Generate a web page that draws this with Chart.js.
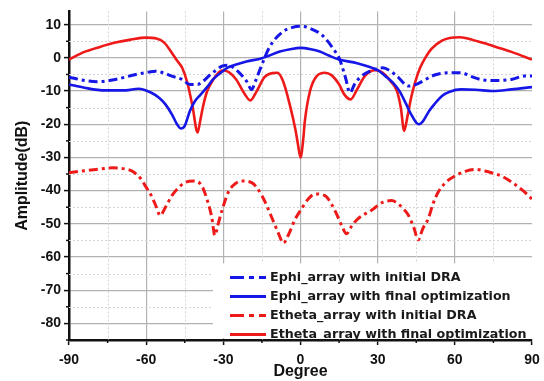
<!DOCTYPE html>
<html>
<head>
<meta charset="utf-8">
<script src="https://cdn.jsdelivr.net/npm/chart.js@4.4.1/dist/chart.umd.min.js"></script>
<style>
  body { margin: 0; background: #fff; }
  canvas { display: block; }
</style>
</head>
<body>
<canvas id="chart" width="544" height="381"></canvas>
<script>
// values (degree, dB)
const ephiInitDeg = [-90,-84,-79,-72,-64,-59,-56.5,-53,-50,-46,-43,-40,-37.5,-35,-33,-30.5,-28.5,-25,-21,-19,-17.5,-15.8,-12,-7,-3,0.5,4,8.5,12.5,15.3,17.5,19.2,21,23,27,32,35,37.5,42,45,48,51,54,57.5,62.5,66,70,76,82,87,90];
const ephiInitDb = [-5.8,-6.8,-7.2,-6.5,-5,-4.3,-4,-4.6,-5.5,-6.5,-8,-8,-6.8,-5,-3.8,-2.5,-2.2,-3.6,-7,-9.5,-7,-3.6,3.3,7.8,9.2,9.5,8.8,6.8,3,-0.6,-6,-10.5,-8,-6,-4,-3,-4,-5.5,-8.5,-8,-6.8,-5.5,-4.8,-4.5,-4.5,-5.5,-6.5,-6.8,-6.5,-5.5,-5.5];

const ephiFinalDeg = [-90,-84,-76,-68,-63,-58,-55,-52.5,-50,-48,-46.5,-45,-43,-41,-39,-36,-34,-31,-28.5,-25,-21,-15,-8,-4,0,4,7.5,11,15,22,26,30,33,36,38.5,41,43,45,46,47.5,50,52,55,58,62.5,68,75,82,90];
const ephiFinalDb = [-8,-9,-9.8,-9.8,-9.3,-10.5,-12,-14,-17,-20,-21.3,-20.5,-16,-13,-11.2,-8.5,-6.5,-4.5,-3,-2,-1.1,-0.1,1.9,2.6,3.0,2.6,1.9,0.7,-0.5,-1.6,-2.5,-3.7,-5.5,-7.5,-10,-13.8,-17,-19.5,-20,-19.2,-16,-14,-11.5,-10.2,-9.5,-9.6,-10,-9.5,-8.8];

const ethetaInitDeg = [-90,-84,-78,-73,-68,-65.5,-62,-60,-58,-56,-54.6,-52.5,-50,-47,-45,-41.7,-38.4,-36,-34.5,-33.3,-32,-30.7,-28.1,-25.5,-22.9,-19,-15,-11,-8.5,-6.7,-4.5,-2.2,0.4,3,5.6,9.5,12,14,16,17.9,20,22.4,27.6,32,35.4,38,40,42,44,45.8,47.5,49.7,51.5,53.5,56.5,60,64,67.8,71.7,75,78.2,83.3,86.5,90];
const ethetaInitDb = [-34.6,-34,-33.5,-33.1,-33.5,-34.1,-36.5,-39,-41.5,-45,-47.5,-45,-41.5,-38.8,-37.6,-37.1,-38.5,-43.5,-48,-53.5,-50,-46.4,-40.5,-38,-37.1,-37.6,-41.5,-48.4,-53,-55.8,-53,-48.8,-45.5,-42.5,-41,-41.5,-44,-47,-50.5,-53,-50.5,-48.4,-45.9,-43.5,-43,-44,-45.5,-47.5,-51,-54.8,-51.5,-48.4,-44,-40.5,-37.5,-35.6,-34.2,-33.6,-34.1,-34.8,-35.6,-38.1,-40,-42.5];

const ethetaFinalDeg = [-90,-84,-78,-72,-66,-60,-56,-53,-50,-48,-46,-44,-42,-40,-39,-38,-36.5,-35,-33,-30.5,-28,-25,-22,-19.5,-17,-14,-11,-9,-6.8,-4.2,-2,-1,0,1,1.7,3.7,6.3,9.5,12,15,17,19.5,22,25,29,32,35,37.5,39,40.3,41.5,43,44.5,46.5,48.5,51,55,58,62,67,72,76,82,90];
const ethetaFinalDb = [-0.5,1.8,3.3,4.6,5.5,6.1,5.8,4.6,1.5,-0.8,-3,-7.5,-14.5,-22.5,-19,-15,-10.5,-8,-5.5,-3.8,-4.2,-6.5,-10.5,-12.8,-10,-5.8,-4.6,-4.5,-7,-14,-21.5,-26,-30,-25,-19,-10,-5.5,-4.5,-5.2,-8,-11,-12.5,-9.5,-5.5,-3.7,-4.5,-7,-10,-15,-22,-18,-12,-7.5,-3,0,2.8,5.2,6,6.2,5.4,4.3,3.3,1.8,-0.5];

const labels = [
  "Ephi_array with initial DRA",
  "Ephi_array with final optimization",
  "Etheta_array with initial DRA",
  "Etheta_array with final optimization"
];
const xTicks = [-90, -60, -30, 0, 30, 60, 90];
const xMinor = [-75, -45, -15, 15, 45, 75];
const yTicks = [-80, -70, -60, -50, -40, -30, -20, -10, 0, 10];
const yMinor = [-85, -75, -65, -55, -45, -35, -25, -15, -5, 5];

const BLUE = "#1616e6";
const RED = "#ee1a1a";
const DASHDOT = [9, 4, 3, 4];

function pts(xs, ys) {
  return xs.map((x, i) => ({ x: x, y: ys[i] }));
}

Chart.defaults.font.family = '"Liberation Sans", Arial, sans-serif';
Chart.defaults.color = "#111";

// dotted minor grid + short minor ticks
const minorGrid = {
  id: "minorGrid",
  beforeDatasetsDraw(chart) {
    const { ctx, chartArea: a, scales: { x, y } } = chart;
    ctx.save();
    ctx.strokeStyle = "#d4d4d4";
    ctx.lineWidth = 1;
    ctx.setLineDash([2, 2]);
    xMinor.forEach(v => {
      const px = Math.round(x.getPixelForValue(v)) + 0.5;
      ctx.beginPath(); ctx.moveTo(px, a.top); ctx.lineTo(px, a.bottom); ctx.stroke();
    });
    yMinor.forEach(v => {
      const py = Math.round(y.getPixelForValue(v)) + 0.5;
      if (py > a.bottom - 2) return;
      ctx.beginPath(); ctx.moveTo(a.left, py); ctx.lineTo(a.right, py); ctx.stroke();
    });
    ctx.setLineDash([]);
    ctx.strokeStyle = "#111";
    ctx.lineWidth = 1.5;
    xMinor.forEach(v => {
      const px = x.getPixelForValue(v);
      ctx.beginPath(); ctx.moveTo(px, a.bottom); ctx.lineTo(px, a.bottom + 3); ctx.stroke();
    });
    yMinor.forEach(v => {
      const py = y.getPixelForValue(v);
      ctx.beginPath(); ctx.moveTo(a.left, py); ctx.lineTo(a.left - 3, py); ctx.stroke();
    });
    ctx.restore();
  }
};

// legend box sitting in the lower right of the plot
const boxLegend = {
  id: "boxLegend",
  afterDatasetsDraw(chart) {
    const { ctx, chartArea: a } = chart;
    const left = a.left + 144, top = a.top + 252;
    ctx.save();
    ctx.fillStyle = "#fff";
    ctx.fillRect(left, top, a.right - left, a.bottom - 2 - top);
    chart.data.datasets.forEach((ds, i) => {
      const cy = top + 14 + i * 19;
      ctx.strokeStyle = ds.borderColor;
      ctx.lineWidth = 3;
      ctx.setLineDash(ds.borderDash && ds.borderDash.length ? [14, 5, 5, 5] : []);
      ctx.beginPath(); ctx.moveTo(left + 17, cy); ctx.lineTo(left + 53, cy); ctx.stroke();
      ctx.setLineDash([]);
      ctx.fillStyle = "#1a1a1a";
      ctx.font = 'bold 12.7px "DejaVu Sans", sans-serif';
      ctx.textBaseline = "middle";
      ctx.fillText(ds.label, left + 57, cy + 0.5);
    });
    ctx.restore();
  }
};

new Chart(document.getElementById("chart"), {
  type: "line",
  data: {
    datasets: [
      { label: labels[0], data: pts(ephiInitDeg, ephiInitDb), borderColor: BLUE, borderDash: DASHDOT, borderWidth: 3 },
      { label: labels[1], data: pts(ephiFinalDeg, ephiFinalDb), borderColor: BLUE, borderWidth: 2.6 },
      { label: labels[2], data: pts(ethetaInitDeg, ethetaInitDb), borderColor: RED, borderDash: DASHDOT, borderWidth: 3 },
      { label: labels[3], data: pts(ethetaFinalDeg, ethetaFinalDb), borderColor: RED, borderWidth: 2.6 }
    ]
  },
  options: {
    responsive: false,
    animation: false,
    layout: { padding: { left: 0, right: 12, top: 5, bottom: 0 } },
    elements: {
      point: { radius: 0 },
      line: { fill: false, cubicInterpolationMode: "monotone", borderCapStyle: "butt" }
    },
    scales: {
      x: {
        type: "linear",
        min: -90,
        max: 90,
        afterBuildTicks: s => { s.ticks = xTicks.map(v => ({ value: v })); },
        afterFit: s => { s.height = 41; s.paddingLeft = 0; s.paddingRight = 0; },
        ticks: { font: { size: 14, weight: "bold" }, color: "#111", padding: 7, maxRotation: 0 },
        grid: {
          color: c => (c.tick && c.tick.value === 90 ? "rgba(0,0,0,0)" : "#b2b2b2"),
          lineWidth: 1.2,
          tickColor: "#111",
          tickLength: 5,
          tickWidth: 1.5
        },
        border: { color: "#111", width: 2.5 },
        title: { display: true, text: "Degree", font: { size: 16, weight: "bold" }, color: "#111", padding: { top: 0, bottom: 0 } }
      },
      y: {
        min: -85,
        max: 14,
        afterBuildTicks: s => { s.ticks = yTicks.map(v => ({ value: v })); },
        afterFit: s => { s.width = 69; },
        ticks: { font: { size: 14, weight: "bold" }, color: "#111", padding: 3 },
        grid: {
          color: "#b2b2b2",
          lineWidth: 1.2,
          tickColor: "#111",
          tickLength: 5,
          tickWidth: 1.5
        },
        border: { color: "#111", width: 2.5 },
        title: { display: true, text: "Amplitude(dB)", font: { size: 16, weight: "bold" }, color: "#111", padding: { top: 13, bottom: 0 } }
      }
    },
    plugins: {
      legend: { display: false },
      tooltip: { enabled: false }
    }
  },
  plugins: [minorGrid, boxLegend]
});
</script>
</body>
</html>
